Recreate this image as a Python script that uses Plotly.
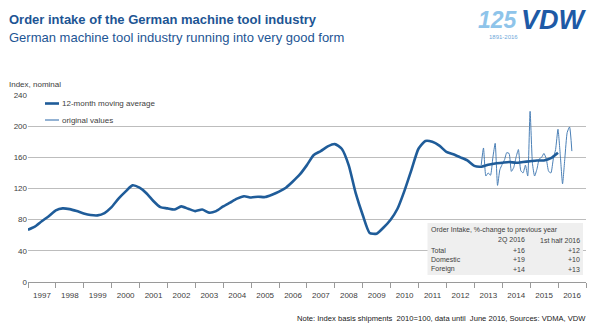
import pandas as pd
import plotly.graph_objects as go

# ---- data -------------------------------------------------------------
# 12-month moving average, index 2010=100, quarter-end readings
ma_dates = pd.date_range("1996-12-31", "2015-12-31", freq="QE")
ma_values = [
    67,
    71, 78, 84.5, 92,        # 1997
    94.5, 93.5, 91, 88,      # 1998
    86, 85.5, 88.5, 96,      # 1999
    107, 116, 124, 121,      # 2000
    114, 104, 96, 94.5,      # 2001
    93, 97, 94, 91,          # 2002
    93, 89, 91, 97,          # 2003
    102, 107, 110, 108.5,    # 2004
    109.5, 109, 112, 116,    # 2005
    121, 129, 138, 150,      # 2006
    163, 168, 174, 177,      # 2007
    171, 150, 114, 86,       # 2008
    63, 62, 70, 80,          # 2009
    94, 117, 144, 171,       # 2010
    181, 180, 175, 167,      # 2011
    164, 160, 156, 149,      # 2012
    148, 150.5, 152, 153,    # 2013
    154, 153, 154, 155,      # 2014
    156, 156, 159, 166,      # 2015
]

# original monthly values, March 2013 - June 2016
orig_dates = pd.date_range("2013-03-31", "2016-06-30", freq="ME")
orig_values = [
    150, 172, 136, 140, 137, 160, 178, 124, 144, 151,          # 2013 (Mar-Dec)
    157, 166, 165, 142, 147, 160, 170, 143, 140, 150, 136, 219,  # 2014
    152, 136, 145, 158, 160, 165, 158, 142, 140, 158, 170, 196,  # 2015
    162, 126, 160, 192, 199, 168,                                # 2016 (Jan-Jun)
]

y_ticks = [0, 40, 80, 120, 160, 200, 240]

table_header = ["", "2Q 2016", "1st half 2016"]
table_rows = ["Total", "Domestic", "Foreign"]
table_q2 = ["+16", "+19", "+14"]
table_h1 = ["+12", "+10", "+13"]

# ---- layout constants ---------------------------------------------------
W, H = 600, 328
L, R, T, B = 28, 14, 95, 46
PW, PH = W - L - R, H - T - B

DARK = "#1f5c99"
LIGHT = "#4a7fb6"
TXT = "#404040"
TITLE = "#1d5594"
FONT = "Liberation Sans, Arial, sans-serif"


def px(x):
    return (x - L) / PW


def py(y):
    return (H - B - y) / PH


fig = go.Figure()

fig.add_trace(go.Scatter(
    x=orig_dates, y=orig_values, mode="lines",
    line=dict(color=LIGHT, width=1, shape="spline", smoothing=0.5),
    name="original values", hoverinfo="skip",
))
fig.add_trace(go.Scatter(
    x=ma_dates, y=ma_values, mode="lines",
    line=dict(color=DARK, width=2.6, shape="spline", smoothing=0.6),
    name="12-month moving average", hoverinfo="skip",
))

shapes = []
annotations = []

# legend drawn by hand (short line samples)
for i, (label, color, width) in enumerate([
        ("12-month moving average", DARK, 2.6),
        ("original values", LIGHT, 1.2)]):
    yy = 103.5 + i * 16.5
    shapes.append(dict(type="line", xref="paper", yref="paper",
                       x0=px(45), x1=px(59), y0=py(yy), y1=py(yy),
                       line=dict(color=color, width=width)))
    annotations.append(dict(text=label, xref="paper", yref="paper",
                            x=px(60), y=py(yy), xanchor="left", yanchor="middle",
                            showarrow=False, font=dict(size=8, color=TXT)))

# summary table box
tx0, tx1, ty0, ty1 = 427.5, 583, 223, 275
shapes.append(dict(type="rect", xref="paper", yref="paper",
                   x0=px(tx0), x1=px(tx1), y0=py(ty1), y1=py(ty0),
                   fillcolor="#efefef", line=dict(width=0), layer="above"))
tfont = dict(size=7, color=TXT)
annotations.append(dict(text="Order Intake, %-change to previous year",
                        xref="paper", yref="paper", x=px(429), y=py(229.5),
                        xanchor="left", yanchor="middle", showarrow=False, font=tfont))
annotations.append(dict(text=table_header[1], xref="paper", yref="paper",
                        x=px(527), y=py(240), xanchor="right", yanchor="middle",
                        showarrow=False, font=tfont))
annotations.append(dict(text=table_header[2], xref="paper", yref="paper",
                        x=px(582), y=py(240), xanchor="right", yanchor="middle",
                        showarrow=False, font=tfont))
for i, (name, q2, h1) in enumerate(zip(table_rows, table_q2, table_h1)):
    yy = 250 + i * 9.7
    annotations.append(dict(text=name, xref="paper", yref="paper", x=px(429), y=py(yy),
                            xanchor="left", yanchor="middle", showarrow=False, font=tfont))
    annotations.append(dict(text=q2, xref="paper", yref="paper", x=px(527), y=py(yy),
                            xanchor="right", yanchor="middle", showarrow=False, font=tfont))
    annotations.append(dict(text=h1, xref="paper", yref="paper", x=px(582), y=py(yy),
                            xanchor="right", yanchor="middle", showarrow=False, font=tfont))

# titles
annotations.append(dict(text="<b>Order intake of the German machine tool industry</b>",
                        xref="paper", yref="paper", x=px(7), y=py(20),
                        xanchor="left", yanchor="middle", showarrow=False,
                        font=dict(size=13, color=TITLE)))
annotations.append(dict(text="German machine tool industry running into very good form",
                        xref="paper", yref="paper", x=px(7), y=py(38),
                        xanchor="left", yanchor="middle", showarrow=False,
                        font=dict(size=13, color=TITLE)))

# logo text
annotations.append(dict(text="<b><i>125</i></b>", xref="paper", yref="paper",
                        x=px(520), y=py(20), xanchor="right", yanchor="middle",
                        showarrow=False, font=dict(size=23, color="#8ec4ea")))
annotations.append(dict(text="<b><i>VDW</i></b>", xref="paper", yref="paper",
                        x=px(519), y=py(20), xanchor="left", yanchor="middle",
                        showarrow=False, font=dict(size=27, color="#1e5aa6")))
annotations.append(dict(text="1891-2016", xref="paper", yref="paper",
                        x=px(503), y=py(37), xanchor="center", yanchor="middle",
                        showarrow=False, font=dict(size=6, color="#6fa9da")))

# axis caption and footnote
annotations.append(dict(text="Index, nominal", xref="paper", yref="paper",
                        x=px(7), y=py(84.5), xanchor="left", yanchor="middle",
                        showarrow=False, font=dict(size=8, color=TXT)))
annotations.append(dict(
    text="Note: Index basis shipments&nbsp;&nbsp;2010=100, data until&nbsp;&nbsp;June 2016, Sources: VDMA, VDW",
    xref="paper", yref="paper", x=px(588), y=py(318), xanchor="right", yanchor="middle",
    showarrow=False, font=dict(size=7.6, color="#202020")))

fig.update_layout(
    width=W, height=H,
    margin=dict(l=L, r=R, t=T, b=B, pad=0),
    paper_bgcolor="white", plot_bgcolor="white",
    font=dict(family=FONT, color=TXT),
    showlegend=False,
    shapes=shapes, annotations=annotations,
    xaxis=dict(
        type="date", range=["1997-01-01", "2017-01-01"],
        tick0="1997-01-01", dtick="M12", tickformat="%Y",
        ticklabelmode="period", ticks="outside", ticklen=5,
        tickcolor="#9a9a9a", tickwidth=1,
        showline=True, linecolor="#9a9a9a", linewidth=1,
        showgrid=False, zeroline=False,
        tickfont=dict(size=8, color=TXT),
    ),
    yaxis=dict(
        range=[0, 240], tickvals=y_ticks,
        showgrid=True, gridcolor="#bdbdbd", gridwidth=1,
        zeroline=False, showline=False, ticks="",
        tickfont=dict(size=8, color=TXT),
    ),
)

fig.write_html("out.html")
